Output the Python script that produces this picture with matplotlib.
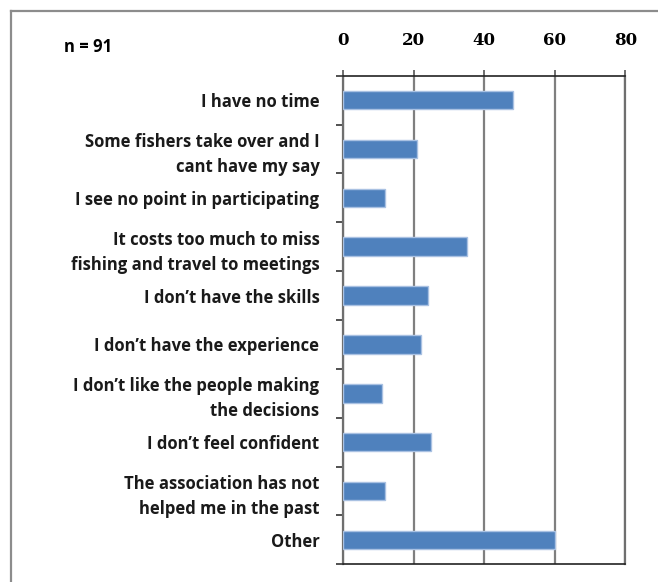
import numpy as np
import matplotlib.pyplot as plt
from matplotlib.lines import Line2D

# Reasons for not participating in the fishers' association
reasons = [
    "I have no time",
    "Some fishers take over and I\ncant have my say",
    "I see no point in participating",
    "It costs too much to miss\nfishing and travel to meetings",
    "I don\u2019t have the skills",
    "I don\u2019t have the experience",
    "I don\u2019t like the people making\nthe decisions",
    "I don\u2019t feel confident",
    "The association has not\nhelped me in the past",
    "Other",
]
counts = [48, 21, 12, 35, 24, 22, 11, 25, 12, 60]
x_ticks = [0, 20, 40, 60, 80]
sample_note = "n = 91"

fig = plt.figure(figsize=(6.58, 5.82), dpi=100)
ax = fig.add_axes([0.5213, 0.0304, 0.4293, 0.8395])

y = np.arange(len(reasons))
ax.barh(y, counts, height=0.38, color="#4F81BD", edgecolor="#a9c1e2",
        linewidth=1.0, zorder=3)

ax.set_xlim(0, 80)
ax.set_ylim(len(reasons) - 0.5, -0.5)

# x axis on top, serif numbers
ax.xaxis.tick_top()
ax.set_xticks(x_ticks)
ax.set_xticklabels([str(t) for t in x_ticks], fontfamily="DejaVu Serif",
                   fontweight="bold", fontsize=12)
ax.tick_params(axis="x", which="major", direction="out", length=4,
               width=1.2, color="#555555", pad=15)

# category labels at centers, tick marks at category boundaries
ax.set_yticks(y)
ax.set_yticklabels(reasons, fontfamily="Open Sans", fontweight="bold",
                   fontsize=12, linespacing=1.5, color="#1a1a1a")
ax.tick_params(axis="y", which="major", length=0, pad=17)
ax.set_yticks(np.arange(len(reasons) + 1) - 0.5, minor=True)
ax.tick_params(axis="y", which="minor", direction="out", length=5,
               width=1.2, color="#333333")

# vertical gridlines
ax.grid(axis="x", color="#7f7f7f", linewidth=1.6, zorder=1)
for side in ["left", "right"]:
    ax.spines[side].set_color("#6f6f6f")
    ax.spines[side].set_linewidth(1.6)
for side in ["top", "bottom"]:
    ax.spines[side].set_color("#222222")
    ax.spines[side].set_linewidth(1.2)

fig.text(64 / 658, 1 - 47 / 582, sample_note, fontfamily="Open Sans",
         fontweight="bold", fontsize=12, va="center", ha="left")

# outer chart frame (top and left edges)
frame_x = 10.5 / 658
frame_y = 1 - 11 / 582
fig.add_artist(Line2D([frame_x, 1.0], [frame_y, frame_y], color="#8c8c8c",
                      linewidth=1.6, transform=fig.transFigure))
fig.add_artist(Line2D([frame_x, frame_x], [0.0, frame_y], color="#8c8c8c",
                      linewidth=1.6, transform=fig.transFigure))

fig.savefig("out.png", dpi=100, facecolor="white")
